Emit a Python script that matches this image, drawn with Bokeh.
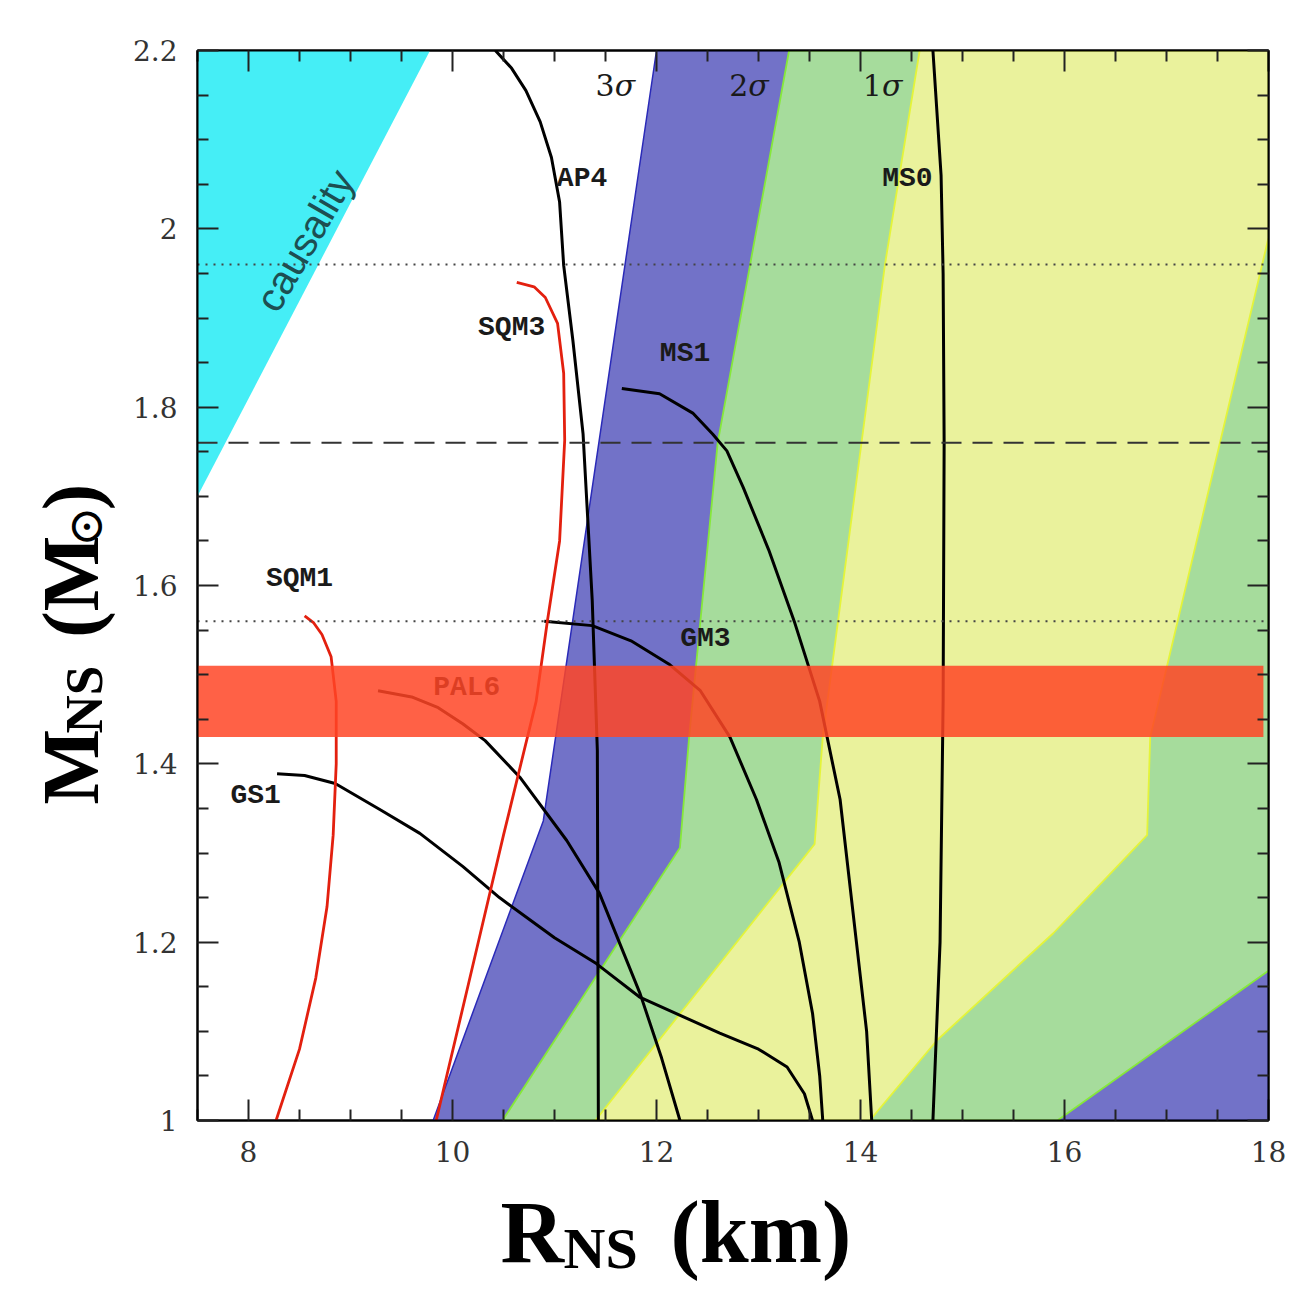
from bokeh.plotting import figure
from bokeh.models import (Range1d, FixedTicker, LinearAxis, Span,
                          CustomJSTickFormatter)
from bokeh.layouts import row, column
from bokeh.embed import file_html
from bokeh.resources import INLINE
from bokeh.core.properties import value
import math

# ---------------- data ----------------
x_ticks = [8, 10, 12, 14, 16, 18]
x_minor = [7.5, 8.5, 9, 9.5, 10.5, 11, 11.5, 12.5, 13, 13.5, 14.5, 15, 15.5, 16.5, 17, 17.5]
y_ticks = [1.0, 1.2, 1.4, 1.6, 1.8, 2.0, 2.2]
y_minor = [1.05, 1.1, 1.15, 1.25, 1.3, 1.35, 1.45, 1.5, 1.55, 1.65, 1.7, 1.75,
           1.85, 1.9, 1.95, 2.05, 2.1, 2.15]

# causality excluded region
caus_r = [7.5, 7.5, 9.78]
caus_m = [1.70, 2.2, 2.2]

# confidence contours (polygons)
sig3_r = [9.81, 10.89, 12.0, 18.0, 18.0]
sig3_m = [1.0, 1.336, 2.2, 2.2, 1.0]
sig2_r = [10.49, 12.23, 12.32, 12.60, 13.30, 18.0, 18.0, 15.93]
sig2_m = [1.0, 1.306, 1.43, 1.76, 2.2, 2.2, 1.168, 1.0]
sig1_r = [11.40, 13.55, 13.63, 14.24, 14.58, 18.0, 18.0, 16.84, 16.81, 15.89, 14.75, 14.09]
sig1_m = [1.0, 1.31, 1.43, 1.96, 2.2, 2.2, 1.99, 1.43, 1.32, 1.21, 1.09, 1.0]

# mass-radius relations
ap4_r = [10.42, 10.58, 10.72, 10.86, 10.97, 11.05, 11.09, 11.18, 11.28, 11.37, 11.42, 11.43]
ap4_m = [2.2, 2.18, 2.155, 2.12, 2.08, 2.03, 1.959, 1.875, 1.770, 1.583, 1.415, 1.0]
ms0_r = [14.71, 14.79, 14.81, 14.82, 14.81, 14.78, 14.71]
ms0_m = [2.2, 2.06, 1.95, 1.76, 1.47, 1.2, 1.0]
ms1_r = [11.66, 12.03, 12.36, 12.55, 12.69, 12.85, 13.1, 13.35, 13.6, 13.8, 13.96, 14.06, 14.11]
ms1_m = [1.821, 1.815, 1.793, 1.770, 1.751, 1.71, 1.64, 1.56, 1.47, 1.36, 1.2, 1.1, 1.0]
gm3_r = [10.90, 11.37, 11.75, 12.12, 12.43, 12.72, 12.98, 13.2, 13.4, 13.53, 13.6, 13.63]
gm3_m = [1.56, 1.555, 1.538, 1.512, 1.482, 1.43, 1.36, 1.29, 1.2, 1.12, 1.05, 1.0]
pal6_r = [9.27, 9.6, 9.86, 10.1, 10.32, 10.66, 11.12, 11.44, 11.84, 12.05, 12.23]
pal6_m = [1.482, 1.475, 1.463, 1.445, 1.426, 1.385, 1.314, 1.255, 1.142, 1.07, 1.0]
gs1_r = [8.28, 8.55, 8.85, 9.30, 9.68, 10.1, 10.46, 11.0, 11.41, 11.84, 12.62, 13.0, 13.28, 13.45, 13.53]
gs1_m = [1.389, 1.387, 1.378, 1.348, 1.322, 1.285, 1.25, 1.205, 1.176, 1.138, 1.098, 1.08, 1.06, 1.03, 1.0]
sqm1_r = [8.55, 8.64, 8.72, 8.81, 8.86, 8.86, 8.83, 8.77, 8.66, 8.5, 8.27]
sqm1_m = [1.566, 1.558, 1.545, 1.52, 1.47, 1.40, 1.32, 1.24, 1.16, 1.08, 1.0]
sqm3_r = [10.63, 10.80, 10.91, 11.03, 11.09, 11.10, 11.05, 10.93, 10.82, 10.5, 10.15, 9.84]
sqm3_m = [1.94, 1.935, 1.923, 1.894, 1.838, 1.763, 1.65, 1.56, 1.47, 1.32, 1.15, 1.0]

# reference masses
dotted_m = [1.96, 1.56]
dashed_m = [1.76]
band_lo, band_hi = 1.43, 1.51
band_r = [7.5, 17.95]

# curve labels
lab_text = ["AP4", "MS0", "SQM3", "MS1", "SQM1", "GM3", "PAL6", "GS1"]
lab_r = [11.27, 14.46, 10.58, 12.28, 8.50, 12.48, 10.14, 8.07]
lab_m = [2.056, 2.056, 1.889, 1.860, 1.608, 1.541, 1.486, 1.364]
sig_num = ["3", "2", "1"]
sig_r = [11.59, 12.90, 14.21]
sig_m = [2.161, 2.161, 2.161]

# axis titles (pieces: main text and subscripts)
x_title = ["R", "NS", "(km)"]
y_title = ["M", "NS", "(M", "⊙", ")"]

# ---------------- layout sizes ----------------
W_LEFT = 120
MB_LEFT, MB_TOP, MB_RIGHT, MB_BOTTOM = 77, 50, 22, 55
FW, FH = 1071, 1070
MAIN_H = MB_TOP + FH + MB_BOTTOM
TOTAL_W = W_LEFT + MB_LEFT + FW + MB_RIGHT
BOT_H = 112

# ---------------- main figure ----------------
p = figure(frame_width=FW, frame_height=FH, output_backend="svg",
           toolbar_location=None, x_range=Range1d(7.5, 18), y_range=Range1d(1.0, 2.2),
           min_border_left=MB_LEFT, min_border_top=MB_TOP, min_border_right=MB_RIGHT,
           min_border_bottom=MB_BOTTOM)
p.xgrid.visible = False
p.ygrid.visible = False
p.outline_line_color = "black"
p.outline_line_width = 2
p.background_fill_color = "white"
p.border_fill_color = "white"

# causality region
p.patch(caus_r, caus_m, fill_color="#45eef6", line_color=None)
p.text([8.55], [1.987], text=["causality"], angle=math.radians(60),
       text_font=value("Liberation Sans"), text_font_size="40px",
       text_color="#1d4f52", text_align="center", text_baseline="middle")

# confidence regions (hatched in the original; averaged tone here)
p.patch(sig3_r, sig3_m, fill_color="#7272c8", line_color="#2a2ab8", line_width=1.5)
p.patch(sig2_r, sig2_m, fill_color="#a6dc9c", line_color="#86e83a", line_width=1.8)
p.patch(sig1_r, sig1_m, fill_color="#eaf29c", line_color="#e4f43a", line_width=1.8)

# reference mass lines
for m in dotted_m:
    p.add_layout(Span(location=m, dimension="width", line_color="#444444",
                      line_width=2, line_dash="2 6", level="glyph"))
for m in dashed_m:
    p.add_layout(Span(location=m, dimension="width", line_color="#333333",
                      line_width=2, line_dash="20 11", level="glyph"))

# curves
for r, m in [(ap4_r, ap4_m), (ms0_r, ms0_m), (ms1_r, ms1_m), (gm3_r, gm3_m),
             (pal6_r, pal6_m), (gs1_r, gs1_m)]:
    p.line(r, m, line_color="black", line_width=3, line_join="round")
for r, m in [(sqm1_r, sqm1_m), (sqm3_r, sqm3_m)]:
    p.line(r, m, line_color="#e3200f", line_width=2.8, line_join="round")

# labels
p.text(lab_r, lab_m, text=lab_text, text_font=value("Liberation Mono"),
       text_font_style="bold", text_font_size="28px", text_color="#1a1a1a",
       text_align="center", text_baseline="middle")
p.text(sig_r, sig_m, text=sig_num, text_font=value("DejaVu Serif"),
       text_font_size="30px", text_color="#1a1a1a",
       text_align="right", text_baseline="middle")
p.text(sig_r, sig_m, text=["σ"] * len(sig_r), text_font=value("DejaVu Serif"),
       text_font_style="italic", text_font_size="30px", text_color="#1a1a1a",
       text_align="left", text_baseline="middle")

# red band
p.quad(left=[band_r[0]], right=[band_r[1]], bottom=[band_lo], top=[band_hi],
       fill_color="#ff4526", fill_alpha=0.85, line_color=None)

# ---------------- axes ----------------
def style_axis(ax, show_labels):
    ax.axis_line_color = "black"
    ax.axis_line_width = 2
    ax.major_tick_in = 21
    ax.major_tick_out = 0
    ax.minor_tick_in = 11
    ax.minor_tick_out = 0
    ax.major_tick_line_color = "#222222"
    ax.major_tick_line_width = 2
    ax.minor_tick_line_color = "#222222"
    ax.minor_tick_line_width = 2
    ax.major_label_text_font = "DejaVu Serif"
    ax.major_label_text_font_size = "28px"
    ax.major_label_text_color = "#333333" if show_labels else None
    ax.major_label_standoff = 20

p.xaxis.ticker = FixedTicker(ticks=x_ticks, minor_ticks=x_minor)
p.yaxis.ticker = FixedTicker(ticks=y_ticks, minor_ticks=y_minor)
p.yaxis.formatter = CustomJSTickFormatter(code="return tick.toFixed(1).replace(/\\.0$/, '');")
for ax in p.xaxis + p.yaxis:
    style_axis(ax, True)

top_ax = LinearAxis(ticker=FixedTicker(ticks=x_ticks, minor_ticks=x_minor))
style_axis(top_ax, False)
top_ax.major_label_text_font_size = "0px"
top_ax.major_label_standoff = 0
p.add_layout(top_ax, "above")
right_ax = LinearAxis(ticker=FixedTicker(ticks=y_ticks, minor_ticks=y_minor))
style_axis(right_ax, False)
right_ax.major_label_text_font_size = "0px"
right_ax.major_label_standoff = 0
p.add_layout(right_ax, "right")

# ---------------- title panels ----------------
def blank(w, h):
    f = figure(width=w, height=h, output_backend="svg", toolbar_location=None,
               x_range=Range1d(0, w), y_range=Range1d(0, h), min_border=0)
    f.axis.visible = False
    f.grid.visible = False
    f.outline_line_color = None
    f.background_fill_color = "white"
    f.border_fill_color = "white"
    return f

serif = value("Liberation Serif")

# y title (rotated, reading upwards); positions in panel pixels
left = blank(W_LEFT, MAIN_H)
a = math.pi / 2
y_parts = [  # (text, x, y, font, size, bold)
    (y_title[0], 70, MAIN_H - 828, serif, "80px", True),
    (y_title[1], 83, MAIN_H - 750, serif, "53px", True),
    (y_title[2], 70, MAIN_H - 645, serif, "80px", True),
    (y_title[3], 84, MAIN_H - 545, value("DejaVu Serif"), "48px", False),
    (y_title[4], 70, MAIN_H - 505, serif, "80px", True),
]
for t, x, y, f, s, b in y_parts:
    left.text([x], [y], text=[t], angle=a, text_font=f,
              text_font_style="bold" if b else "normal", text_font_size=s,
              text_color="black", text_align="left", text_baseline="middle")

# x title
bottom = blank(TOTAL_W, BOT_H)
top_page = MAIN_H + BOT_H
x_parts = [
    (x_title[0], 500, top_page - 1232, "88px"),
    (x_title[1], 563, top_page - 1248, "58px"),
    (x_title[2], 670, top_page - 1232, "88px"),
]
for t, x, y, s in x_parts:
    bottom.text([x], [y], text=[t], text_font=serif, text_font_style="bold",
                text_font_size=s, text_color="black",
                text_align="left", text_baseline="middle")

layout = column(row(left, p, spacing=0), bottom, spacing=0)

open("out.html", "w").write(file_html(layout, INLINE))
